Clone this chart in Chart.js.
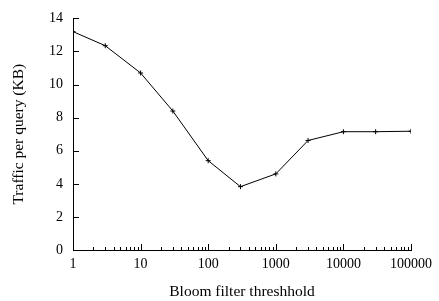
<!DOCTYPE html>
<html lang="en">
<head>
  <meta charset="UTF-8">
  <title>Traffic per query vs Bloom filter threshhold</title>
  <script src="https://cdn.jsdelivr.net/npm/chart.js"></script>
  <style>
    html, body { margin: 0; padding: 0; background: #fff; }
    #wrap { width: 439px; height: 301px; }
  </style>
</head>
<body>
  <div id="wrap"><canvas id="chart"></canvas></div>

<script>
  // data
  const thresholds = [1, 3, 10, 30, 100, 300, 1000, 3000, 10000, 30000, 100000];
  const traffic = [13.2, 12.35, 10.7, 8.4, 5.4, 3.83, 4.6, 6.62, 7.15, 7.15, 7.18];
  const xMajorTicks = [1, 10, 100, 1000, 10000, 100000];
  const yTicks = [0, 2, 4, 6, 8, 10, 12, 14];

  const serif = '"Liberation Serif", "DejaVu Serif", serif';

  // small inward tick marks like gnuplot draws
  const inwardTicks = {
    id: 'inwardTicks',
    afterDraw(chart) {
      const { ctx, chartArea, scales } = chart;
      ctx.save();
      ctx.strokeStyle = '#000';
      ctx.lineWidth = 1;
      ctx.beginPath();
      for (let p = 0; p < xMajorTicks.length; p++) {
        const base = xMajorTicks[p];
        for (let m = 1; m <= 9; m++) {
          const v = base * m;
          if (v > 100000) break;
          const x = Math.round(scales.x.getPixelForValue(v)) + 0.5;
          const len = m === 1 ? 6 : 3;
          ctx.moveTo(x, chartArea.bottom);
          ctx.lineTo(x, chartArea.bottom - len);
        }
      }
      yTicks.forEach(v => {
        const y = Math.round(scales.y.getPixelForValue(v)) + 0.5;
        ctx.moveTo(chartArea.left, y);
        ctx.lineTo(chartArea.left + 6, y);
      });
      ctx.stroke();
      ctx.restore();
    }
  };

  new Chart(document.getElementById('chart'), {
    type: 'line',
    data: {
      datasets: [{
        data: thresholds.map((t, i) => ({ x: t, y: traffic[i] })),
        borderColor: '#000',
        borderWidth: 1,
        pointStyle: 'cross',
        pointRadius: 2.5,
        pointBorderColor: '#000',
        pointBorderWidth: 1,
        tension: 0,
        fill: false
      }]
    },
    plugins: [inwardTicks],
    options: {
      responsive: true,
      maintainAspectRatio: false,
      animation: false,
      layout: { padding: { top: 12, right: 28, left: 0, bottom: 0 } },
      plugins: { legend: { display: false }, tooltip: { enabled: false } },
      scales: {
        x: {
          type: 'logarithmic',
          min: 1,
          max: 100000,
          afterBuildTicks: s => { s.ticks = xMajorTicks.map(v => ({ value: v })); },
          afterFit: s => { s.height = 51; },
          grid: { display: false, drawTicks: false },
          border: { display: true, color: '#000', width: 1 },
          ticks: {
            color: '#000',
            padding: 6,
            autoSkip: false,
            maxRotation: 0,
            font: { family: serif, size: 14 },
            callback: v => String(v)
          },
          title: {
            display: true,
            text: 'Bloom filter threshhold',
            color: '#000',
            font: { family: serif, size: 15.5 },
            padding: { top: 1, bottom: 0 }
          }
        },
        y: {
          min: 0,
          max: 14,
          afterBuildTicks: s => { s.ticks = yTicks.map(v => ({ value: v })); },
          afterFit: s => { s.width = 73; },
          grid: { display: false, drawTicks: false },
          border: { display: true, color: '#000', width: 1 },
          ticks: {
            color: '#000',
            padding: 10,
            font: { family: serif, size: 14 }
          },
          title: {
            display: true,
            text: 'Traffic per query (KB)',
            color: '#000',
            font: { family: serif, size: 15.5 },
            padding: { top: 10, bottom: 0 }
          }
        }
      }
    }
  });
</script>
</body>
</html>
